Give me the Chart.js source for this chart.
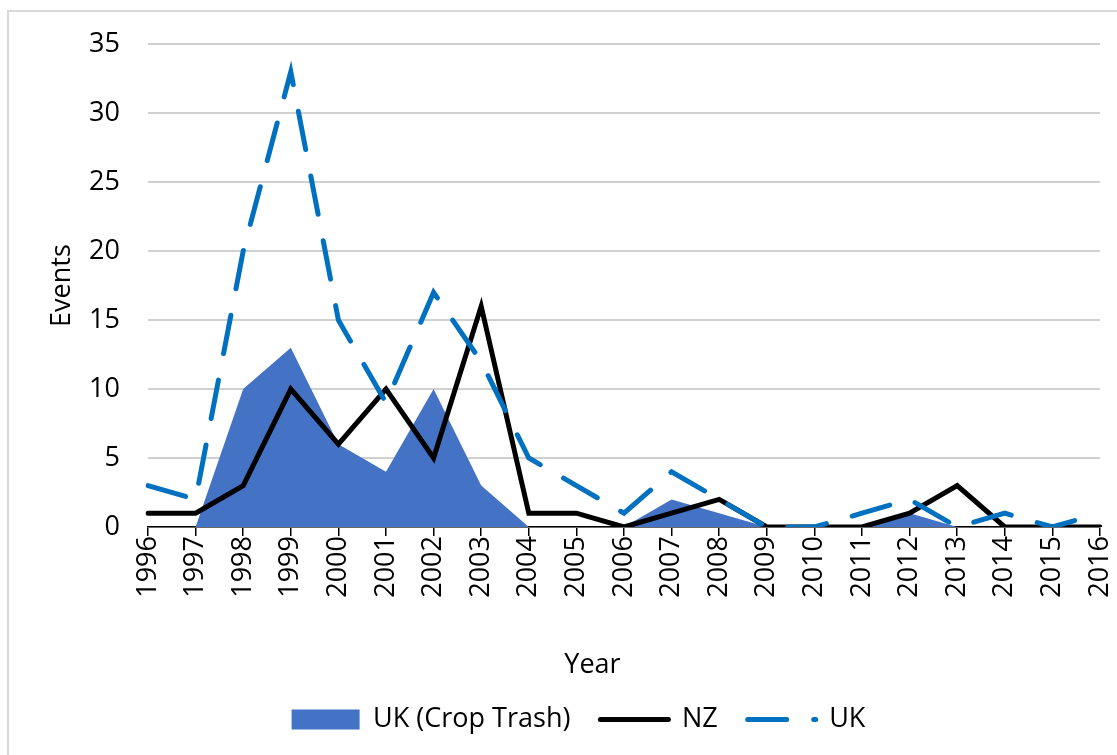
<!DOCTYPE html>
<html>
<head>
<meta charset="utf-8">
<script src="https://cdn.jsdelivr.net/npm/chart.js@4.4.1/dist/chart.umd.min.js"></script>
<style>
  html, body { margin: 0; padding: 0; background: #fff; overflow: hidden; }
  #frame { position: absolute; left: 7px; top: 10px; width: 1300px; height: 900px; border: 2px solid #d9d9d9; }
  #wrap { position: absolute; left: 0; top: 0; width: 1117px; height: 755px; }
</style>
</head>
<body>
<div id="frame"></div>
<div id="wrap"><canvas id="chart" width="1117" height="755"></canvas></div>
<script>
var years = ['1996', '1997', '1998', '1999', '2000', '2001', '2002', '2003', '2004', '2005', '2006',
             '2007', '2008', '2009', '2010', '2011', '2012', '2013', '2014', '2015', '2016'];
var ukCropTrash = [0, 0, 10, 13, 6, 4, 10, 3, 0, 0, 0, 2, 1, 0, 0, 0, 1, 0, 0, 0, 0];
var nz = [1, 1, 3, 10, 6, 10, 5, 16, 1, 1, 0, 1, 2, 0, 0, 0, 1, 3, 0, 0, 0];
var uk = [3, 2, 20, 33, 15, 9, 17, 12, 5, 3, 1, 4, 2, 0, 0, 1, 2, 0, 1, 0, 1];
var yTicks = [0, 5, 10, 15, 20, 25, 30, 35];

var font = "'Open Sans', sans-serif";
Chart.defaults.font.family = font;
Chart.defaults.font.size = 27;
Chart.defaults.color = '#000';

new Chart(document.getElementById('chart'), {
    type: 'line',
    data: {
        labels: years,
        datasets: [{
            label: 'UK (Crop Trash)',
            data: ukCropTrash,
            fill: 'origin',
            backgroundColor: '#4472C4',
            borderColor: '#4472C4',
            borderWidth: 0,
            pointRadius: 0,
            pointStyle: 'rect',
            tension: 0,
            order: 2
        }, {
            label: 'NZ',
            data: nz,
            fill: false,
            borderColor: '#000',
            backgroundColor: '#000',
            borderWidth: 5,
            pointRadius: 0,
            pointStyle: 'line',
            borderCapStyle: 'round',
            tension: 0,
            order: 1
        }, {
            label: 'UK',
            data: uk,
            fill: false,
            borderColor: '#0070C0',
            backgroundColor: '#0070C0',
            borderWidth: 5,
            borderDash: [39, 27],
            borderCapStyle: 'round',
            pointRadius: 0,
            pointStyle: 'line',
            tension: 0,
            order: 0
        }]
    },
    options: {
        responsive: false,
        animation: false,
        devicePixelRatio: 1,
        layout: { padding: { top: 25, left: 40, right: 0, bottom: 12 } },
        plugins: {
            filler: { drawTime: 'beforeDatasetsDraw' },
            tooltip: { enabled: false },
            legend: {
                position: 'bottom',
                labels: {
                    usePointStyle: true,
                    pointStyleWidth: 68,
                    boxHeight: 20,
                    padding: 30,
                    font: { size: 27 },
                    sort: function(a, b) { return a.datasetIndex - b.datasetIndex; },
                    generateLabels: function(chart) {
                        var items = Chart.defaults.plugins.legend.labels.generateLabels(chart);
                        items.forEach(function(item) {
                            var ds = chart.data.datasets[item.datasetIndex];
                            if (ds.pointStyle === 'line') {
                                item.lineDash = ds.borderDash || [];
                                item.lineCap = 'round';
                                item.lineWidth = 5;
                                item.strokeStyle = ds.borderColor;
                            }
                        });
                        return items;
                    }
                }
            }
        },
        scales: {
            x: {
                offset: false,
                grid: { drawOnChartArea: false, tickLength: 9, color: '#000', lineWidth: 1.5 },
                border: { color: '#000', width: 1.5 },
                ticks: { minRotation: 90, maxRotation: 90, autoSkip: false, padding: 0, font: { size: 27, lineHeight: 0.63 } },
                // trailing spaces push the centred title left, as in the original
                title: { display: true, text: 'Year         ', font: { size: 27 }, padding: { top: 0, bottom: -6 } },
                afterFit: function(axis) { axis.height = 149; }
            },
            y: {
                min: 0,
                max: 35,
                afterBuildTicks: function(axis) {
                    axis.ticks = yTicks.map(function(v) { return { value: v }; });
                },
                grid: { drawTicks: false, color: '#d0d0d0', lineWidth: 2 },
                border: { display: false },
                ticks: { padding: 28, font: { size: 27 } },
                title: { display: true, text: 'Events', font: { size: 27 }, padding: { top: 6, bottom: 0 } },
                afterFit: function(axis) { axis.width = 108; }
            }
        }
    }
});
</script>
</body>
</html>
